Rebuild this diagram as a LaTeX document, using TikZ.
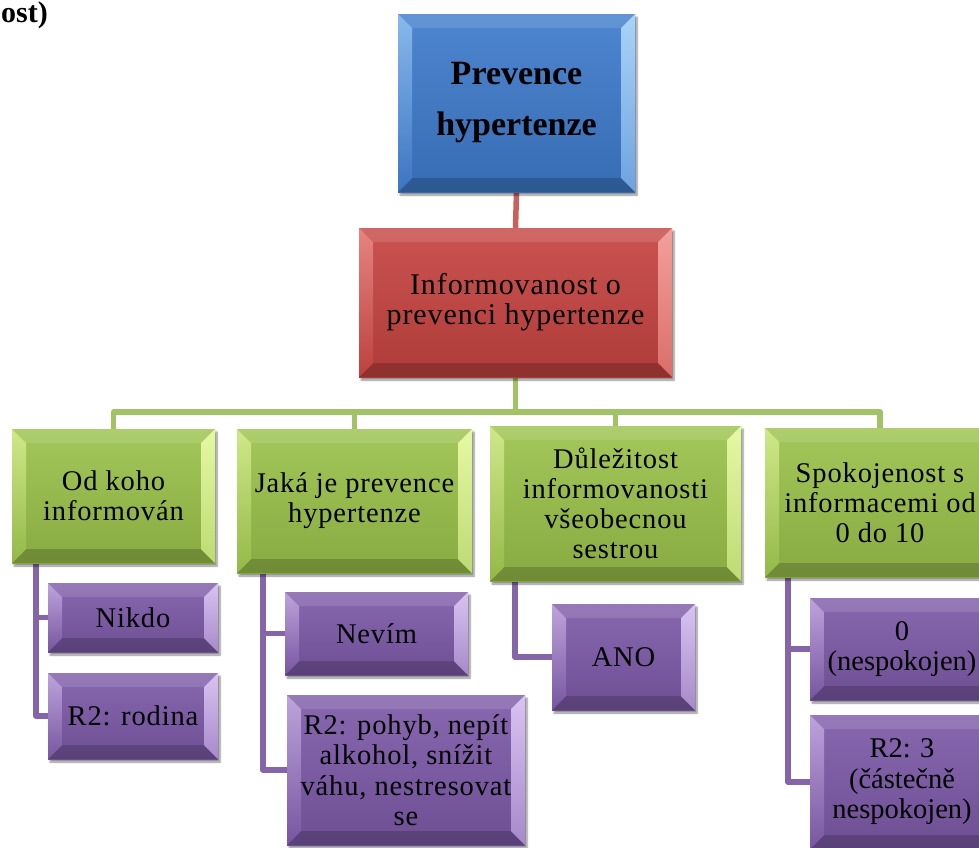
\documentclass[tikz,border=0pt]{standalone}
\usepackage{fontspec}
\setmainfont{Liberation Serif}[LetterSpace=3]
\usetikzlibrary{shadows.blur}

\definecolor{blueBase}{HTML}{3E7BCB}
\definecolor{blueHi}{HTML}{A9D3FA}
\definecolor{redBase}{HTML}{C64441}
\definecolor{redHi}{HTML}{F3A09C}
\definecolor{greenBase}{HTML}{9BC24B}
\definecolor{greenHi}{HTML}{E6F8A4}
\definecolor{purpleBase}{HTML}{7D5AA8}
\definecolor{purpleHi}{HTML}{D9C3F2}
\definecolor{redLine}{HTML}{C9605C}
\definecolor{greenLine}{HTML}{A2C266}
\definecolor{purpleLine}{HTML}{8466A8}

\pgfdeclarelayer{bg}
\pgfsetlayers{bg,main}

\tikzset{
  % bevelled box: #1 base colour, #2 highlight colour
  bevelbox/.style 2 args={
    rectangle, inner sep=0pt, align=center,
    top color=#1!92!white, bottom color=#1!88!black,
    blur shadow={shadow xshift=2pt, shadow yshift=-3pt, shadow blur steps=6, shadow opacity=45},
    path picture={
      \coordinate (bvNW) at (path picture bounding box.north west);
      \coordinate (bvNE) at (path picture bounding box.north east);
      \coordinate (bvSW) at (path picture bounding box.south west);
      \coordinate (bvSE) at (path picture bounding box.south east);
      \coordinate (bvnw) at ([xshift=14pt,yshift=-14pt]bvNW);
      \coordinate (bvne) at ([xshift=-14pt,yshift=-14pt]bvNE);
      \coordinate (bvsw) at ([xshift=14pt,yshift=14pt]bvSW);
      \coordinate (bvse) at ([xshift=-14pt,yshift=14pt]bvSE);
      \fill[white, fill opacity=0.12] (bvNW) -- (bvNE) -- (bvne) -- (bvnw) -- cycle;
      \fill[black, fill opacity=0.18] (bvSW) -- (bvSE) -- (bvse) -- (bvsw) -- cycle;
      \shade[top color=#2!70!#1, bottom color=#1!95!black] (bvNW) -- (bvnw) -- (bvsw) -- (bvSW) -- cycle;
      \shade[top color=#2, bottom color=#2!45!#1] (bvNE) -- (bvne) -- (bvse) -- (bvSE) -- cycle;
    }
  },
  toptext/.style={font=\bfseries\fontsize{34}{51}\selectfont\addfontfeature{LetterSpace=0}},
  midtext/.style={font=\fontsize{30}{30}\selectfont},
  subtext/.style={font=\fontsize{28.5}{30}\selectfont},
  leaftext/.style={font=\fontsize{28.5}{30.5}\selectfont},
  tighttext/.style={font=\fontsize{28.5}{30.5}\selectfont\addfontfeature{LetterSpace=0}},
  rootbox/.style={bevelbox={blueBase}{blueHi}, toptext},
  topicbox/.style={bevelbox={redBase}{redHi}, midtext},
  groupbox/.style={bevelbox={greenBase}{greenHi}, subtext},
  leafbox/.style={bevelbox={purpleBase}{purpleHi}, leaftext},
  link/.style={line width=5.5pt, line join=round},
}

\begin{document}
\begin{tikzpicture}[x=1pt, y=-1pt]
  \useasboundingbox (0,0) rectangle (979,847);
  \clip (0,0) rectangle (979,847);

  % heading fragment in the corner
  \node[font=\bfseries\fontsize{30}{30}\selectfont\addfontfeature{LetterSpace=0}, anchor=north west, inner sep=0pt] (tag) at (1,1) {ost)};

  % root and topic
  \node[rootbox, minimum width=237pt, minimum height=178pt] (root) at (516.5,103) {Prevence\\hypertenze};
  \node[topicbox, minimum width=313pt, minimum height=149pt] (topic) at (515.5,302.5) {Informovanost o\\prevenci hypertenze};

  % question groups
  \node[groupbox, minimum width=203pt, minimum height=134pt] (g1) at (113.5,496) {Od koho\\informován};
  \node[groupbox, minimum width=235pt, minimum height=144pt] (g2) at (354.5,501) {Jaká je prevence\\hypertenze};
  \node[groupbox, minimum width=251pt, minimum height=155pt] (g3) at (615.5,503.5) {Důležitost\\informovanosti\\všeobecnou\\sestrou};
  \node[groupbox, minimum width=230pt, minimum height=149pt] (g4) at (880,502.5) {Spokojenost s\\informacemi od\\0 do 10};

  % answers
  \node[leafbox, minimum width=170pt, minimum height=69pt] (a11) at (133,617.5) {Nikdo};
  \node[leafbox, minimum width=170pt, minimum height=86pt] (a12) at (133,716) {R2: rodina};
  \node[leafbox, minimum width=183pt, minimum height=83pt] (a21) at (376.5,633.5) {Nevím};
  \node[leafbox, minimum width=238pt, minimum height=150pt] (a22) at (406,770) {R2: pohyb, nepít\\alkohol, snížit\\váhu, nestresovat\\se};
  \node[leafbox, minimum width=143pt, minimum height=106pt] (a31) at (623.5,657) {ANO};
  \node[leafbox, tighttext, minimum width=184pt, minimum height=102pt] (a41) at (902,649) {0\\(nespokojen)};
  \node[leafbox, tighttext, minimum width=184pt, minimum height=134pt] (a42) at (902,782) {R2: 3\\(částečně\\nespokojen)};

  \begin{pgfonlayer}{bg}
    \draw[link, redLine] (root.south) -- (topic.north);
    \foreach \g in {g1,g2,g3,g4}
      \draw[link, greenLine] (topic.south) -- ++(0,35) -| (\g.north);
    \draw[link, purpleLine] ([xshift=24pt]g1.south west) |- (a11.west);
    \draw[link, purpleLine] ([xshift=24pt]g1.south west) |- (a12.west);
    \draw[link, purpleLine] ([xshift=26pt]g2.south west) |- (a21.west);
    \draw[link, purpleLine] ([xshift=26pt]g2.south west) |- (a22.west);
    \draw[link, purpleLine] ([xshift=25pt]g3.south west) |- (a31.west);
    \draw[link, purpleLine] ([xshift=23pt]g4.south west) |- (a41.west);
    \draw[link, purpleLine] ([xshift=23pt]g4.south west) |- (a42.west);
  \end{pgfonlayer}
\end{tikzpicture}
\end{document}
